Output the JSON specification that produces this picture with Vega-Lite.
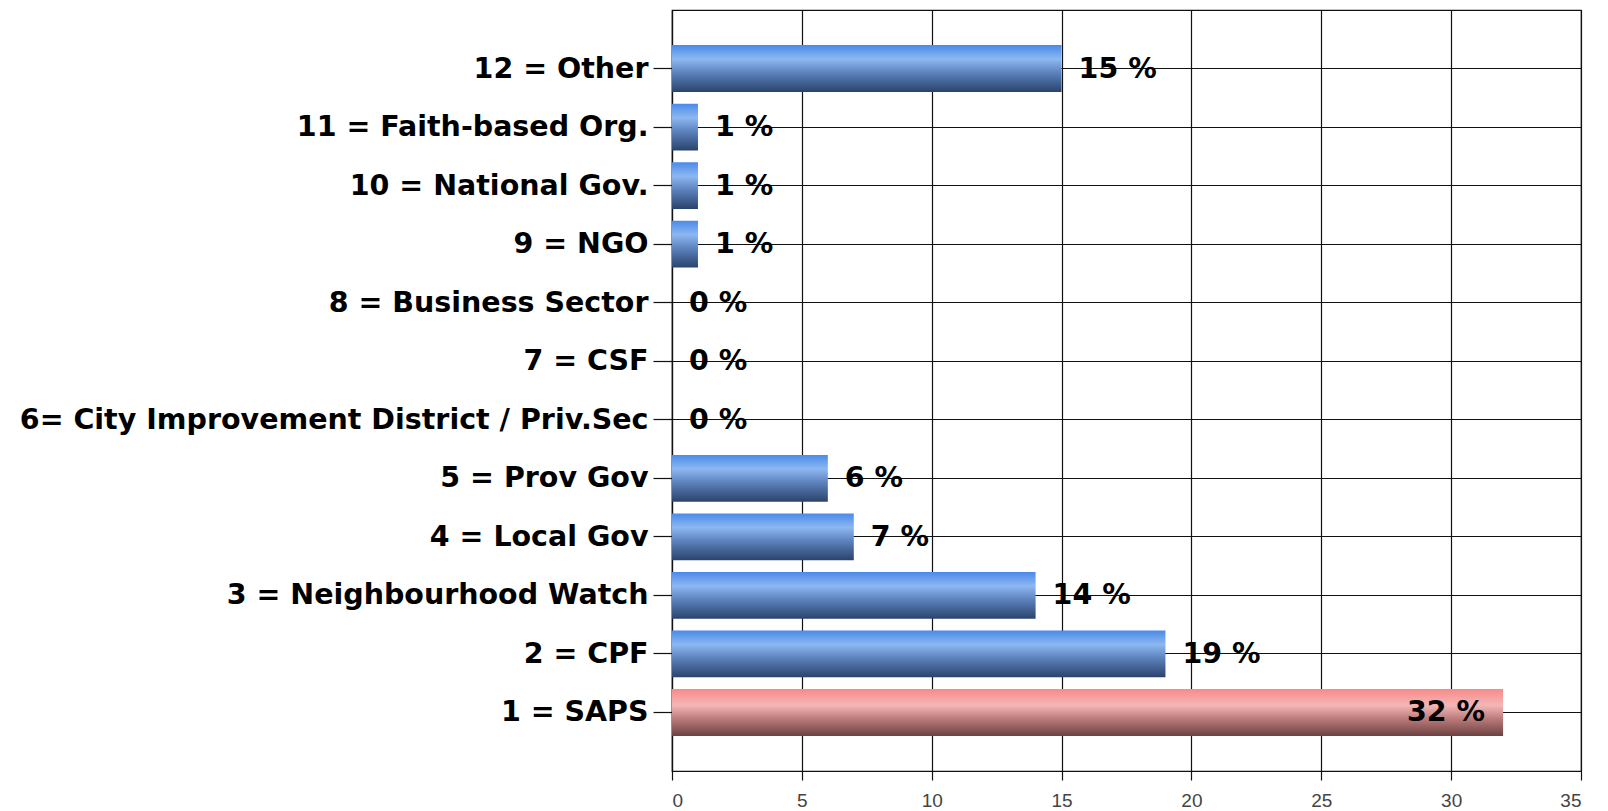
{
  "$schema": "https://vega.github.io/schema/vega-lite/v6.json",
  "autosize": {"type": "none"},
  "width": 909,
  "height": 761,
  "padding": {"left": 672, "top": 10, "right": 27, "bottom": 40},
  "background": "white",
  "view": {"stroke": "#111", "strokeWidth": 1.2},
  "data": {
    "values": [
      {"category": "12 = Other", "value": 15, "label": "15 %", "highlight": false},
      {"category": "11 = Faith-based Org.", "value": 1, "label": "1 %", "highlight": false},
      {"category": "10 = National Gov.", "value": 1, "label": "1 %", "highlight": false},
      {"category": "9 = NGO", "value": 1, "label": "1 %", "highlight": false},
      {"category": "8 = Business Sector", "value": 0, "label": "0 %", "highlight": false},
      {"category": "7 = CSF", "value": 0, "label": "0 %", "highlight": false},
      {"category": "6= City Improvement District / Priv.Sec", "value": 0, "label": "0 %", "highlight": false},
      {"category": "5 = Prov Gov", "value": 6, "label": "6 %", "highlight": false},
      {"category": "4 = Local Gov", "value": 7, "label": "7 %", "highlight": false},
      {"category": "3 = Neighbourhood Watch", "value": 14, "label": "14 %", "highlight": false},
      {"category": "2 = CPF", "value": 19, "label": "19 %", "highlight": false},
      {"category": "1 = SAPS", "value": 32, "label": "32 %", "highlight": true}
    ]
  },
  "encoding": {
    "y": {
      "field": "category",
      "type": "nominal",
      "sort": null,
      "scale": {"paddingInner": 0.2, "paddingOuter": 0.6},
      "axis": {
        "title": null,
        "bandPosition": 0.5,
        "grid": true,
        "gridColor": "#111",
        "gridWidth": 1.2,
        "gridOpacity": 1,
        "domainColor": "#111",
        "domainWidth": 1.2,
        "tickColor": "#111",
        "tickWidth": 1.2,
        "tickSize": 19,
        "labelPadding": 5,
        "labelFont": "DejaVu Sans",
        "labelFontWeight": "bold",
        "labelFontSize": 28.5,
        "labelColor": "#000",
        "labelLimit": 700
      }
    },
    "x": {
      "field": "value",
      "type": "quantitative",
      "scale": {"domain": [0, 35], "nice": false},
      "axis": {
        "title": null,
        "values": [0, 5, 10, 15, 20, 25, 30, 35],
        "grid": true,
        "gridColor": "#111",
        "gridWidth": 1.2,
        "gridOpacity": 1,
        "domainColor": "#111",
        "domainWidth": 1.2,
        "tickColor": "#111",
        "tickWidth": 1.2,
        "tickSize": 9,
        "labelPadding": 11,
        "labelFont": "Liberation Sans Narrow, Liberation Sans",
        "labelFontSize": 19,
        "labelColor": "#444"
      }
    }
  },
  "layer": [
    {
      "transform": [{"filter": "!datum.highlight"}],
      "mark": {
        "type": "bar",
        "color": {
          "gradient": "linear",
          "x1": 0, "y1": 0, "x2": 0, "y2": 1,
          "stops": [
            {"offset": 0, "color": "#4a8ae8"},
            {"offset": 0.3, "color": "#8db8f2"},
            {"offset": 0.6, "color": "#5b80ba"},
            {"offset": 1, "color": "#2a436c"}
          ]
        }
      }
    },
    {
      "transform": [{"filter": "datum.highlight"}],
      "mark": {
        "type": "bar",
        "color": {
          "gradient": "linear",
          "x1": 0, "y1": 0, "x2": 0, "y2": 1,
          "stops": [
            {"offset": 0, "color": "#f88a8a"},
            {"offset": 0.35, "color": "#f3b6b6"},
            {"offset": 0.65, "color": "#b87878"},
            {"offset": 1, "color": "#6c4242"}
          ]
        }
      }
    },
    {
      "transform": [{"filter": "!datum.highlight"}],
      "mark": {
        "type": "text",
        "align": "left",
        "baseline": "middle",
        "dx": 17,
        "font": "DejaVu Sans",
        "fontWeight": "bold",
        "fontSize": 28.5,
        "color": "#000"
      },
      "encoding": {"text": {"field": "label"}}
    },
    {
      "transform": [{"filter": "datum.highlight"}],
      "mark": {
        "type": "text",
        "align": "right",
        "baseline": "middle",
        "dx": -18,
        "font": "DejaVu Sans",
        "fontWeight": "bold",
        "fontSize": 28.5,
        "color": "#000"
      },
      "encoding": {"text": {"field": "label"}}
    }
  ]
}
